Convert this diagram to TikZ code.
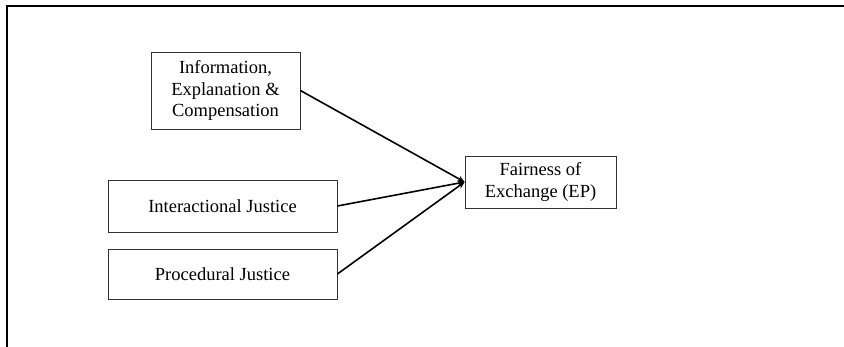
\documentclass[tikz,border=0pt]{standalone}
\usepackage{fontspec}
\setmainfont{Liberation Serif}
\usetikzlibrary{arrows.meta}

\begin{document}
\begin{tikzpicture}[x=1pt,y=-1pt,
  box/.style={draw=black!80, line width=0.8pt, inner sep=0pt, align=center,
    font=\fontsize{18.5}{21.5}\selectfont},
  link/.style={line width=1.6pt, -{Stealth[length=7pt,width=6pt]}},
  frameline/.style={line width=1.4pt}]
  \useasboundingbox (0,0) rectangle (844,347);

  % open frame: top and left edges
  \coordinate (fl) at (7,347);
  \coordinate (fc) at (7,6);
  \coordinate (fr) at (844,6);
  \draw[frameline] (fl) -- (fc) -- (fr);

  % antecedent boxes
  \node[box, minimum width=149pt, minimum height=77pt] (info) at (225.5,90.5)
    {Information,\\Explanation \&\\Compensation};
  \node[box, minimum width=229pt, minimum height=52pt] (inter) at (222.5,206)
    {Interactional Justice};
  \node[box, minimum width=229pt, minimum height=50pt] (proc) at (222.5,274)
    {Procedural Justice};

  % outcome box
  \node[box, minimum width=151pt, minimum height=52pt] (fair) at (540.5,182)
    {Fairness of\\Exchange (EP)};

  % paths into the outcome
  \draw[link] (info.east) -- (fair.west);
  \draw[link] (inter.east) -- (fair.west);
  \draw[link] (proc.east) -- (fair.west);
\end{tikzpicture}
\end{document}
